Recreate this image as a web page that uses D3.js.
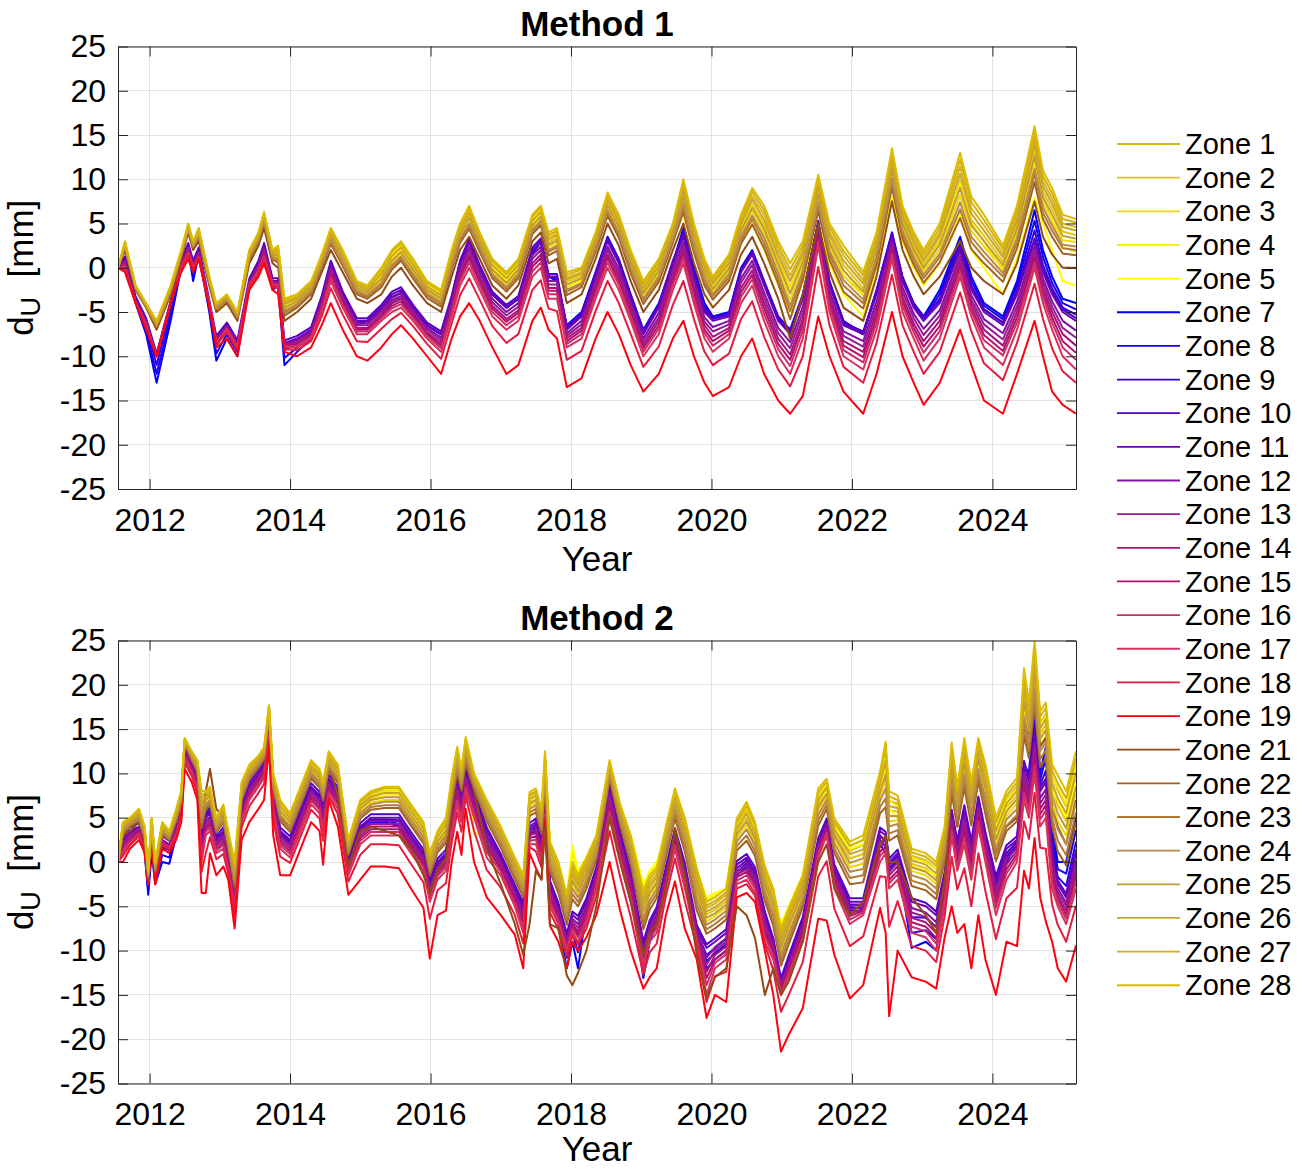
<!DOCTYPE html>
<html>
<head>
<meta charset="utf-8">
<title>Vertical displacement by zone</title>
<script src="https://cdn.jsdelivr.net/npm/d3@7"></script>
<style>
  html, body { margin: 0; padding: 0; background: #ffffff; }
  svg { display: block; }
</style>
</head>
<body>
<svg id="chart" width="1306" height="1169"></svg>
<script>
// ---- zones, colours and tick values ----
const zoneIds = [1,2,3,4,5,7,8,9,10,11,12,13,14,15,16,17,18,19,21,22,23,24,25,26,27,28];
const zoneColors = ["#d9b51c","#e3c510","#eed808","#f6ea00","#ffff00","#0000ff","#1a00ee","#3300dd","#5200cc","#6e00b8","#8510a5","#951c94","#a51480","#b40f6c","#c8306c","#d8305c","#e41c40","#ff0010","#924a14","#a4601e","#b07a36","#b88a48","#c09a3a","#c8a428","#d2b010","#dcbc00"];
const xTickYears = [2012,2014,2016,2018,2020,2022,2024];
const yTickValues = [-25,-20,-15,-10,-5,0,5,10,15,20,25];

// ---- Method 1: sample epochs (decimal years) and dU per zone [mm] ----
const m1Years = [2011.55,2011.65,2011.8,2011.95,2012.1,2012.3,2012.45,2012.55,2012.62,2012.7,2012.85,2012.95,2013.1,2013.25,2013.42,2013.55,2013.63,2013.75,2013.83,2013.92,2014.1,2014.3,2014.45,2014.58,2014.75,2014.95,2015.1,2015.3,2015.45,2015.58,2015.75,2015.95,2016.15,2016.3,2016.42,2016.55,2016.7,2016.88,2017.08,2017.25,2017.45,2017.57,2017.68,2017.8,2017.94,2018.15,2018.35,2018.52,2018.68,2018.85,2019.03,2019.25,2019.45,2019.6,2019.75,2019.9,2020.02,2020.25,2020.42,2020.58,2020.75,2020.95,2021.12,2021.3,2021.52,2021.68,2021.88,2022.16,2022.35,2022.57,2022.72,2022.88,2023.02,2023.25,2023.54,2023.7,2023.88,2024.15,2024.35,2024.6,2024.72,2024.85,2025.0,2025.19];

const m1z1 = [0,2.8,-2.1,-4.1,-6.2,-2.2,1.8,4.8,2.8,4.3,-1.2,-4.2,-3.2,-5.2,1.8,3.8,6,1.8,2.1,-3.9,-3.3,-1.8,1.2,4.1,1.6,-1.8,-2.3,-0.5,1.5,2.5,0.5,-1.9,-2.9,1.5,4.5,6.4,3.5,0.5,-1,0.5,5.5,6.5,3.4,3.9,-1.1,-0.5,3.5,7.9,5.4,1.4,-2.1,0.4,4.5,9.2,4.3,0.4,-1.6,0.9,5.3,8.1,6,2,-0.9,2,9.6,4.1,1.4,-1.4,3.2,12.5,6.2,3.2,1.2,4,11.4,6.7,4.8,1.6,6,14.6,9.8,7.8,5,4.6];
const m1z2 = [0,2.7,-2.2,-4.2,-6.3,-2.3,1.7,4.7,2.7,4,-1.3,-4.3,-3.3,-5.3,1.5,3.5,5.7,1.5,1.7,-4.3,-3.6,-2.1,0.9,3.7,1.2,-2.1,-2.6,-1,1,2,0,-2.3,-3.3,1,4,5.9,3,0,-1.5,0,5,6,2.9,3.4,-1.6,-1,3,7.4,4.9,0.9,-2.6,-0.1,4,8.4,3.6,-0.3,-2.1,0.2,4.6,7.2,4.9,0.9,-2.2,1.1,8.7,3.2,0.3,-2.3,2.4,11.6,5.4,2.4,0.4,3.1,9.8,5.4,3.6,0.7,4.9,13.3,8.6,6.6,4.1,3.7];
const m1z3 = [0,2.5,-2.2,-4.2,-6.5,-2.5,1.5,4.5,2.5,3.8,-1.5,-4.5,-3.5,-5.5,1.3,3.3,5.5,1.3,1.3,-4.7,-4,-2.5,0.5,3.3,0.8,-2.5,-3,-1.4,0.6,1.6,-0.4,-2.7,-3.7,0.6,3.6,5.3,2.6,-0.4,-1.9,-0.4,4.6,5.6,2.3,2.8,-2.2,-1.4,2.6,6.8,4.3,0.3,-3.2,-0.7,3.6,7.6,2.8,-0.9,-2.7,-0.4,3.8,6.4,3.9,-0.1,-3.6,0.1,7.9,2.4,-0.9,-3.1,1.6,10.6,4.6,1.6,-0.4,2.1,8.2,4.2,2.4,-0.1,3.9,11.9,7.4,5.4,3.1,2.9];
const m1z4 = [0,2.5,-2.3,-4.3,-6.5,-2.5,1.8,4.5,2.5,4,-1.5,-4.5,-3.5,-5.3,1.5,3.5,5.7,1.5,1.8,-4.3,-3.8,-2,1,4,1.5,-2,-2.5,-0.5,1.5,2.5,0.5,-1.8,-2.8,1.5,4.5,6.3,3.5,0.5,-1,0.5,5.5,6.5,3.3,3.8,-1.3,-0.8,3.3,7.5,5,1.3,-2.3,0.3,4.3,8,3.5,-0.3,-2,0.3,4.5,7,4.5,0.5,-2.3,0.8,7.8,2.8,-0.3,-3,2,10.8,5,2,0,2.8,9.5,5,3,-0.3,4,12,8,5.5,2.3,1.8];
const m1z5 = [0,2,-2.5,-4.5,-7,-3,1.5,4,2,3.5,-2,-5,-4,-5.5,1,3,5,1,1,-5,-4.5,-2.5,0.5,3.5,1,-2.5,-3,-1,1,2,0,-2,-3,1,4,5.5,3,0,-1.5,0,5,6,2.5,3,-2,-1.5,2.5,6.5,4,0.5,-3,-0.5,3.5,6,2,-1.5,-3,-1,3,5,2,-2,-5,-1.5,5,0.5,-3,-5.5,0,8,3,0,-2,0.5,6,2,0,-3,1,8,5,2,-1.5,-2];
const m1z7 = [0,1,-4,-7.5,-13,-6,0,2,-1.5,1.5,-5,-10.5,-8,-10,-2,0,2,-2.5,-2,-11,-9.5,-8,-4,0,-3.5,-6.5,-6,-5,-4,-3.5,-5.5,-6.5,-7.5,-3.5,0.5,3,0,-3,-4.5,-3.5,1.5,3,-1,-1.5,-6.5,-5,-0.5,3.5,1,-3,-7,-4,0.5,4.5,0,-4,-5.5,-5,0,2,-1.5,-5.5,-7,-3,5,-1.5,-6,-7.5,-2.5,4,-1,-4,-5.5,-2.5,3.5,-1,-4,-5.5,-1.5,6.5,2,-1,-3.5,-4];
const m1z8 = [0,1,-3.8,-7,-12,-5.3,0.2,2.2,-0.8,1.7,-4.7,-9.7,-7.5,-9.5,-1.8,0.2,2.2,-2.2,-1.8,-10.2,-9,-7.7,-3.8,0.2,-3.3,-6.3,-6,-4.8,-3.7,-3.2,-5.2,-6.5,-7.5,-3.5,0.5,3,0,-3,-4.5,-3.5,1.7,3,-1,-1.3,-6.7,-5.2,-0.7,3.3,0.8,-3.2,-7.2,-4.2,0.5,4.2,-0.3,-4.3,-5.7,-5.2,-0.2,1.8,-1.7,-5.7,-7.2,-3.2,5,-1.7,-6.2,-7.5,-2.7,3.8,-1.2,-4.2,-5.7,-3,3,-1.5,-4.3,-5.8,-2,5.3,1.2,-1.7,-4,-4.7];
const m1z9 = [0,1,-3.7,-6.5,-11,-4.7,0.3,2.3,-0.2,1.8,-4.3,-8.8,-7,-9,-1.7,0.3,2.3,-1.8,-1.7,-9.3,-8.5,-7.3,-3.7,0.3,-3.2,-6.2,-6,-4.7,-3.3,-2.8,-4.8,-6.5,-7.5,-3.5,0.5,3,0,-3,-4.5,-3.5,1.8,3,-1,-1.2,-6.8,-5.3,-0.8,3.2,0.7,-3.3,-7.3,-4.3,0.5,3.8,-0.7,-4.7,-5.8,-5.3,-0.3,1.7,-1.8,-5.8,-7.3,-3.3,5,-1.8,-6.3,-7.5,-2.8,3.7,-1.3,-4.3,-5.8,-3.5,2.5,-2,-4.7,-6.2,-2.5,4.2,0.3,-2.3,-4.5,-5.3];
const m1z10 = [0,1.3,-3.2,-5.7,-9.7,-3.7,0.8,2.8,0.8,2.3,-3.7,-7.7,-6.2,-8.2,-1.2,0.8,2.8,-1.2,-1.2,-8.2,-7.7,-6.7,-3.2,0.8,-2.7,-5.7,-5.7,-4.2,-2.7,-2.2,-4.2,-6.2,-7.2,-3.2,0.8,3.3,0.3,-2.7,-4.2,-3.2,2.3,3.3,-0.7,-0.7,-6.7,-5.2,-0.7,3.3,0.8,-3.2,-7.2,-4.2,0.8,3.8,-0.7,-4.7,-5.7,-5.2,-0.2,1.8,-1.7,-5.7,-7.2,-3.2,5.3,-1.7,-6.2,-7.2,-2.7,3.8,-1.2,-4.2,-5.7,-3.7,2.3,-2.2,-4.7,-6.2,-2.7,3.3,-0.2,-2.7,-4.7,-5.7];
const m1z11 = [0,1,-3.5,-6,-10,-4,0.5,2.5,0.5,2,-4,-8,-6.5,-8.5,-1.5,0.5,2.5,-1.5,-1.5,-8.5,-8,-7,-3.5,0.5,-3,-6,-6,-4.5,-3,-2.5,-4.5,-6.5,-7.5,-3.5,0.5,3,0,-3,-4.5,-3.5,2,3,-1,-1,-7,-5.5,-1,3,0.5,-3.5,-7.5,-4.5,0.5,3.5,-1,-5,-6,-5.5,-0.5,1.5,-2,-6,-7.5,-3.5,5,-2,-6.5,-7.5,-3,3.5,-1.5,-4.5,-6,-4,2,-2.5,-5,-6.5,-3,3,-0.5,-3,-5,-6];
const m1z12 = [0,0.8,-3.6,-6.1,-10,-4,0.4,2.3,0.4,1.8,-4,-8.1,-6.6,-8.6,-1.6,0.3,2.2,-1.6,-1.6,-8.6,-8.2,-7.2,-3.8,0.1,-3.3,-6.3,-6.3,-4.8,-3.4,-2.9,-4.8,-6.8,-7.9,-3.9,0,2.4,-0.5,-3.5,-5,-4,1.4,2.4,-1.5,-1.5,-7.4,-6,-1.5,2.4,-0.1,-4,-8,-5.1,-0.1,2.9,-1.6,-5.6,-6.7,-6,-1.2,0.8,-2.8,-6.8,-8.4,-4.4,4.5,-2.6,-7.2,-8.3,-3.8,3,-2.2,-5.2,-6.9,-4.8,1.4,-3.1,-5.8,-7.4,-3.8,2.4,-1.2,-3.8,-6,-7.1];
const m1z13 = [0,0.7,-3.7,-6.2,-10,-4,0.3,2.2,0.3,1.7,-4,-8.2,-6.7,-8.7,-1.7,0.2,2,-1.7,-1.7,-8.7,-8.4,-7.4,-4,-0.2,-3.5,-6.5,-6.5,-5,-3.7,-3.2,-5,-7,-8.2,-4.2,-0.4,2,-0.9,-3.9,-5.4,-4.4,1,2,-1.9,-1.9,-7.7,-6.4,-1.9,2,-0.6,-4.4,-8.4,-5.6,-0.6,2.5,-2.1,-6.1,-7.2,-6.4,-1.7,0.3,-3.4,-7.4,-9.1,-5.1,4.1,-3.1,-7.7,-8.9,-4.4,2.6,-2.7,-5.7,-7.6,-5.4,1,-3.6,-6.4,-8.1,-4.4,2,-1.7,-4.4,-6.8,-7.9];
const m1z14 = [0,0.5,-3.8,-6.3,-10,-4,0.3,2,0.3,1.5,-4,-8.3,-6.8,-8.8,-1.8,0,1.8,-1.8,-1.8,-8.8,-8.5,-7.5,-4.3,-0.5,-3.8,-6.8,-6.8,-5.3,-4,-3.5,-5.3,-7.3,-8.5,-4.5,-0.8,1.5,-1.3,-4.3,-5.8,-4.8,0.5,1.5,-2.3,-2.3,-8,-6.8,-2.3,1.5,-1,-4.8,-8.8,-6,-1,2,-2.5,-6.5,-7.8,-6.8,-2.3,-0.3,-4,-8,-9.8,-5.8,3.8,-3.5,-8.3,-9.5,-5,2.3,-3.3,-6.3,-8.3,-6,0.5,-4,-7,-8.8,-5,1.5,-2.3,-5,-7.5,-8.8];
const m1z15 = [0,0.4,-3.8,-6.3,-10,-4,0.2,1.9,0.2,1.4,-4,-8.3,-6.8,-8.8,-1.8,-0.2,1.5,-1.8,-1.8,-8.8,-8.7,-7.7,-4.5,-0.8,-4,-7,-7,-5.5,-4.3,-3.8,-5.5,-7.5,-8.8,-4.8,-1.1,1.1,-1.6,-4.6,-6.1,-5.1,0.1,1.1,-2.6,-2.6,-8.3,-7.1,-2.6,1.1,-1.5,-5.1,-9.1,-6.5,-1.5,1.6,-3,-7,-8.3,-7.1,-2.8,-0.8,-4.6,-8.6,-10.4,-6.4,3.4,-4,-8.8,-10.1,-5.6,1.9,-3.8,-6.8,-8.9,-6.6,0.1,-4.5,-7.6,-9.4,-5.6,1.1,-2.8,-5.6,-8.3,-9.6];
const m1z16 = [0,0.2,-3.9,-6.4,-10,-4,0.1,1.7,0.1,1.2,-4,-8.4,-6.9,-8.9,-1.9,-0.3,1.3,-1.9,-1.9,-8.9,-8.8,-7.8,-4.7,-1.1,-4.2,-7.2,-7.2,-5.7,-4.6,-4.1,-5.7,-7.7,-9.1,-5.1,-1.5,0.6,-2,-5,-6.5,-5.5,-0.4,0.6,-3,-3,-8.6,-7.5,-3,0.6,-1.9,-5.5,-9.5,-6.9,-1.9,1.1,-3.4,-7.4,-8.8,-7.5,-3.3,-1.3,-5.2,-9.2,-11.1,-7.1,3,-4.4,-9.3,-10.7,-6.2,1.5,-4.3,-7.3,-9.6,-7.2,-0.4,-4.9,-8.2,-9.9,-6.2,0.6,-3.3,-6.2,-9,-10.4];
const m1z17 = [0,0,-4,-6.5,-10,-4,0,1.5,0,1,-4,-8.5,-7,-9,-2,-0.5,1,-2,-2,-9,-9,-8,-5,-1.5,-4.5,-7.5,-7.5,-6,-5,-4.5,-6,-8,-9.5,-5.5,-2,0,-2.5,-5.5,-7,-6,-1,0,-3.5,-3.5,-9,-8,-3.5,0,-2.5,-6,-10,-7.5,-2.5,0.5,-4,-8,-9.5,-8,-4,-2,-6,-10,-12,-8,2.5,-5,-10,-11.5,-7,1,-5,-8,-10.5,-8,-1,-5.5,-9,-11,-7,0,-4,-7,-10,-11.5];
const m1z18 = [0,-0.2,-4,-6.7,-10,-4,-0.2,1.4,-0.2,1,-4.2,-8.7,-7.3,-9.3,-2.2,-0.7,0.9,-2.2,-2.3,-9.2,-9.3,-8.3,-5.5,-2.3,-5.3,-8.3,-8.4,-6.9,-5.8,-5.1,-6.6,-8.6,-10.3,-6.3,-3.1,-1.2,-3.6,-6.6,-8.5,-7.5,-2.5,-1.4,-4.6,-4.9,-10.4,-9.4,-4.9,-1.5,-4,-7.5,-11.2,-8.9,-4.2,-1.5,-5.8,-9.5,-11,-9.7,-5.8,-3.8,-7.8,-11.5,-13.4,-10,0.1,-6.5,-11.2,-13,-8.5,-0.8,-6.5,-9.5,-12,-9.5,-2.8,-7.2,-10.8,-12.7,-8.5,-1.8,-5.8,-9.1,-11.7,-13];
const m1z19 = [0,-0.5,-4,-7,-10,-4,-0.5,1,-0.5,1,-4.5,-9,-8,-10,-2.5,-1,0.5,-2.5,-3,-9.5,-10,-9,-6.5,-4,-7,-10,-10.5,-9,-7.5,-6.5,-8,-10,-12,-8,-5.5,-4,-6,-9,-12,-11,-6,-4.5,-7,-8,-13.5,-12.5,-8,-5,-7.5,-11,-14,-12,-8,-6,-10,-13,-14.5,-13.5,-10,-8,-12,-15,-16.5,-14.5,-5.5,-10,-14,-16.5,-12,-5,-10,-13,-15.5,-13,-7,-11,-15,-16.5,-12,-6,-10,-14,-15.5,-16.5];
const m1z21 = [0,2,-2.5,-4.5,-7,-3,1,4,2,3,-2,-5,-4,-6,0.5,2.5,4.5,0.5,0,-6,-5,-3.5,-0.5,2,-0.5,-3.5,-4,-3,-1,0,-2,-4,-5,-1,2,3.5,1,-2,-3.5,-2,3,4,0.5,1,-4,-3,1,5,2.5,-1.5,-5,-2.5,2,5,0.5,-3,-4.5,-2.5,1.5,3.5,0.5,-3.5,-8,-3,5,-0.5,-4.5,-6,-1,7.5,2,-1,-3,-1,3,0,-1.5,-3,0.5,7.5,3.5,1.5,0,0];
const m1z22 = [0,2.3,-2.4,-4.4,-6.7,-2.7,1.3,4.3,2.3,3.4,-1.7,-4.7,-3.7,-5.7,0.9,2.9,5,0.9,0.6,-5.4,-4.5,-3,0,2.7,0.2,-3,-3.5,-2.2,-0.2,0.8,-1.2,-3.4,-4.4,-0.2,2.8,4.4,1.8,-1.2,-2.7,-1.2,3.8,4.8,1.4,1.9,-3.1,-2.2,1.8,5.9,3.4,-0.6,-4.1,-1.6,2.8,6.3,1.7,-2,-3.6,-1.5,2.7,4.9,2.2,-1.8,-5.8,-1.4,6.4,0.9,-2.7,-4.6,0.3,9.1,3.3,0.3,-1.7,0.6,5.6,2.1,0.5,-1.6,2.2,9.7,5.5,3.5,1.6,1.4];
const m1z23 = [0,2.4,-2.3,-4.3,-6.6,-2.6,1.4,4.4,2.4,3.5,-1.6,-4.6,-3.6,-5.6,1,3,5.2,1,0.9,-5.1,-4.3,-2.8,0.2,2.9,0.4,-2.8,-3.3,-1.9,0.1,1.1,-0.9,-3.1,-4.1,0.1,3.1,4.8,2.1,-0.9,-2.4,-0.9,4.1,5.1,1.8,2.3,-2.7,-1.9,2.1,6.3,3.8,-0.2,-3.7,-1.2,3.1,6.8,2.1,-1.6,-3.2,-1.1,3.1,5.5,2.8,-1.2,-4.9,-0.8,7,1.5,-2,-4,0.8,9.7,3.8,0.8,-1.2,1.2,6.6,2.9,1.2,-1,2.8,10.6,6.2,4.2,2.2,2];
const m1z24 = [0,2.4,-2.3,-4.3,-6.6,-2.6,1.4,4.4,2.4,3.7,-1.6,-4.6,-3.6,-5.6,1.2,3.2,5.3,1.2,1.1,-4.9,-4.1,-2.6,0.4,3.1,0.6,-2.6,-3.1,-1.7,0.3,1.3,-0.7,-2.9,-3.9,0.3,3.3,5,2.3,-0.7,-2.2,-0.7,4.3,5.3,2,2.5,-2.5,-1.7,2.3,6.5,4,0,-3.5,-1,3.3,7.2,2.5,-1.2,-3,-0.7,3.5,5.9,3.4,-0.6,-4.3,-0.4,7.4,1.9,-1.4,-3.6,1.2,10.1,4.2,1.2,-0.8,1.6,7.4,3.5,1.8,-0.6,3.4,11.2,6.8,4.8,2.6,2.4];
const m1z25 = [0,2.6,-2.2,-4.2,-6.4,-2.4,1.6,4.6,2.6,3.9,-1.4,-4.4,-3.4,-5.4,1.4,3.4,5.6,1.4,1.5,-4.5,-3.8,-2.3,0.7,3.5,1,-2.3,-2.8,-1.2,0.8,1.8,-0.2,-2.5,-3.5,0.8,3.8,5.6,2.8,-0.2,-1.7,-0.2,4.8,5.8,2.6,3.1,-1.9,-1.2,2.8,7.1,4.6,0.6,-2.9,-0.4,3.8,8,3.2,-0.6,-2.4,-0.1,4.2,6.8,4.4,0.4,-2.9,0.6,8.3,2.8,-0.3,-2.7,2,11.1,5,2,0,2.6,9,4.8,3,0.3,4.4,12.6,8,6,3.6,3.3];
const m1z26 = [0,2.8,-2.1,-4.1,-6.2,-2.2,1.8,4.8,2.8,4.1,-1.2,-4.2,-3.2,-5.2,1.6,3.6,5.9,1.6,1.9,-4.1,-3.5,-2,1,3.9,1.4,-2,-2.5,-0.7,1.3,2.3,0.3,-2.1,-3.1,1.3,4.3,6.2,3.3,0.3,-1.2,0.3,5.3,6.3,3.2,3.7,-1.3,-0.7,3.3,7.7,5.2,1.2,-2.3,0.2,4.3,8.8,3.9,0,-1.8,0.5,4.9,7.7,5.4,1.4,-1.5,1.6,9.2,3.7,0.8,-1.8,2.8,12.1,5.8,2.8,0.8,3.6,10.6,6.1,4.2,1.2,5.4,14,9.2,7.2,4.6,4.2];
const m1z27 = [0,2.9,-2,-4,-6.1,-2.1,1.9,4.9,2.9,4.4,-1.1,-4.1,-3.1,-5.1,1.9,3.9,6.2,1.9,2.3,-3.7,-3.2,-1.7,1.3,4.3,1.8,-1.7,-2.2,-0.2,1.8,2.8,0.8,-1.7,-2.7,1.8,4.8,6.7,3.8,0.8,-0.7,0.8,5.8,6.8,3.7,4.2,-0.8,-0.2,3.8,8.2,5.7,1.7,-1.8,0.7,4.8,9.6,4.6,0.7,-1.3,1.2,5.6,8.6,6.5,2.5,-0.2,2.5,10.1,4.6,1.9,-0.9,3.6,13,6.6,3.6,1.6,4.5,12.2,7.4,5.4,2.1,6.5,15.3,10.4,8.4,5.5,5.1];
const m1z28 = [0,3,-2,-4,-6,-2,2,5,3,4.5,-1,-4,-3,-5,2,4,6.3,2,2.5,-3.5,-3,-1.5,1.5,4.5,2,-1.5,-2,0,2,3,1,-1.5,-2.5,2,5,7,4,1,-0.5,1,6,7,4,4.5,-0.5,0,4,8.5,6,2,-1.5,1,5,10,5,1,-1,1.5,6,9,7,3,0.5,3,10.5,5,2.5,-0.5,4,13.5,7,4,2,5,13,8,6,2.5,7,16,11,9,6,5.5];

// ---- Method 2: sample epochs (decimal years) and dU per zone [mm] ----
const m2Years = [2011.55,2011.62,2011.72,2011.85,2011.93,2011.98,2012.03,2012.08,2012.18,2012.28,2012.38,2012.45,2012.5,2012.6,2012.68,2012.74,2012.8,2012.86,2012.95,2013.05,2013.12,2013.21,2013.31,2013.42,2013.55,2013.63,2013.7,2013.76,2013.86,2014.0,2014.15,2014.3,2014.42,2014.47,2014.55,2014.68,2014.83,2015.0,2015.15,2015.35,2015.55,2015.72,2015.9,2015.99,2016.1,2016.22,2016.3,2016.38,2016.44,2016.5,2016.62,2016.8,2017.0,2017.2,2017.32,2017.41,2017.5,2017.58,2017.63,2017.7,2017.82,2017.94,2018.02,2018.1,2018.22,2018.36,2018.55,2018.7,2018.85,2019.03,2019.12,2019.22,2019.35,2019.48,2019.62,2019.79,2019.93,2020.05,2020.21,2020.36,2020.5,2020.62,2020.76,2020.88,2020.99,2021.1,2021.3,2021.52,2021.64,2021.75,2021.97,2022.16,2022.4,2022.48,2022.53,2022.65,2022.85,2023.05,2023.2,2023.32,2023.42,2023.5,2023.6,2023.7,2023.8,2023.9,2024.05,2024.2,2024.35,2024.45,2024.52,2024.6,2024.68,2024.76,2024.85,2024.93,2025.05,2025.19];

const m2z1 = [0,4.2,4.8,5.7,3.7,-1.1,4.8,-0.2,4.2,3.3,5.7,7.7,13.9,12.3,11.2,7.2,7.6,8.1,4.6,6.1,3.1,-0.6,8.6,10.6,11.7,12.7,17.4,9.6,6.5,5.1,8.1,11.1,10.1,8.6,12.1,10.6,2.1,6.6,7.6,8,8,6,4,0.5,3,4.4,8.9,12.4,10,13.5,9.6,6.5,3.5,0,-2,7.4,7.8,5.4,11.7,1.6,-0.7,-4.4,-0.8,-2.2,-0.2,2.4,11.1,6,2.4,-4.2,-2.3,-1.4,3.3,7.6,4.2,-1.7,-5.2,-4.7,-3.7,4.2,5.9,3.7,-1.3,-3.8,-8.3,-6,-2.2,7.5,8.7,4.1,1.3,1.9,9.3,12.1,6.9,6.6,0.7,0.2,-0.8,3.2,12.4,7.6,12.9,8,13,9.9,4,7.1,8.5,20.4,16.7,23.4,15.7,16.7,9.6,8.1,6.3,10.9];
const m2z2 = [0,3.9,4.6,5.4,3.4,-1.3,4.6,-0.4,3.9,3.1,5.4,7.4,13.7,12.1,10.9,6.3,7.2,7.7,4.3,5.7,2.7,-1.1,8.2,10.3,11.4,12.4,17.1,9.3,6,4.7,7.7,10.7,9.7,8.2,11.7,10.2,1.8,6.2,7.2,7.5,7.5,5.5,3.5,0,2.5,3.9,8.4,11.9,9.5,13,9.3,6,3,-0.5,-2.5,6.8,7.2,4.9,10.9,0.9,-1.4,-5,-1.7,-2.9,-0.9,1.9,10.7,5.5,1.7,-5,-3.1,-2.1,2.6,6.9,3.4,-2.6,-5.9,-5.4,-4.4,3.5,5,2.9,-2.1,-4.7,-9.2,-6.8,-2.9,6.6,8,3.3,0.4,0.9,8.3,10.6,5.8,5.7,-0.2,-0.7,-1.7,2.4,11.3,6.7,11.8,7,12,8.8,3,6.2,7.5,18.9,15.5,21.9,14.5,15.5,8.2,6.4,4.6,9.3];
const m2z3 = [0,3.7,4.4,5.2,3.2,-1.4,4.4,-0.6,3.7,2.9,5.2,7.2,13.6,11.9,10.7,5.5,6.7,7.2,3.9,5.2,2.2,-1.7,7.7,9.9,11.2,12.2,16.8,8.9,5.5,4.2,7.2,10.2,9.2,7.7,11.2,9.7,1.4,5.7,6.7,7,7,5,3,-0.5,2,3.3,7.8,11.3,9,12.4,8.9,5.5,2.5,-1,-3,6.3,6.7,4.3,10.2,0.3,-2.1,-5.7,-2.5,-3.6,-1.6,1.3,10.2,5,1.1,-5.9,-3.8,-2.7,1.9,6.2,2.7,-3.6,-6.7,-6.1,-5.1,2.7,4.2,2.2,-2.8,-5.5,-10,-7.7,-3.7,5.8,7.4,2.6,-0.6,-0.2,7.4,9.2,4.6,4.7,-1,-1.5,-2.5,1.7,10.1,5.8,10.6,6.1,11.1,7.6,2.1,5.2,6.6,17.3,14.2,20.5,13.2,14.2,6.8,4.6,3,7.7];
const m2z4 = [0,4.3,4.8,5.8,3.8,-1.3,4.8,-0.3,4.3,3.3,5.8,7.5,13.8,12.3,11.3,3.5,7,7.8,4.5,6,3,-1.9,8.5,10.5,11.5,12.5,17.4,9.8,6.5,5,8,11,10,8.5,12,10.5,2.3,6.5,7.5,8,8,6,4,-0.8,3,4.5,9,12.5,10,13.6,6.5,5.5,3.5,0.5,-1.8,6.7,7.2,5.3,10.8,1.7,-0.5,-3.9,1,-1.3,0.5,2.8,11,6.3,3,-2.9,-1.3,-0.4,3.5,7.7,4.5,-0.9,-4.3,-3.8,-3,4.5,6.2,4,-0.8,-3.3,-7.3,-5.1,-1.5,7.7,8.7,4.5,1.9,2.5,9.1,12.3,7,6.3,0.5,0,-0.8,3.3,11.3,7.3,12,7.5,12.5,9.5,4,7,8.3,19.5,16.5,22.5,15.5,16.5,9.5,8.4,6.5,10.8];
const m2z5 = [0,4,4.5,5.5,3.5,-1.5,4.5,-0.5,4,3,5.5,7,13.5,12,11,-1,6,7,4,5.5,2.5,-3.7,8,10,11,12,17,9.5,6,4.5,7.5,10.5,9.5,8,11.5,10,2,6,7,7.5,7.5,5.5,3.5,-2.5,2.5,4,8.5,12,9.5,13,3,4,3,0.5,-2,5.5,6,4.5,9,1,-1,-4,1.9,-1,0.5,2.5,10.5,6,3,-2.5,-1,0,3,7,4,-1,-4,-3.5,-3,4,5.5,3.5,-1,-3.5,-7,-5,-1.5,7,8,4,1.5,2,8,11,6,5,-0.5,-1,-1.5,2.5,9,6,10,6,11,8,3,6,7,17,15,20,14,15,8,7,5,9];
const m2z7 = [0,2,3,3.5,1,-3.7,1,-2.5,0,-0.2,3,5,12,10.5,9,3,6,6,3,3,0,-4,5.5,8,9.5,11,15,7,3,2,5,8,7,5.5,9,7.5,-0.5,3.5,4.5,4.5,4,2,0,-3,-0.5,0.5,5,8.5,6.5,9.5,6.5,2,-0.5,-4,-6,3,3.5,1,6,-3.5,-7,-12,-9,-12,-5.5,-2,9,2,-2.5,-13.1,-9,-7,-2,2.5,-2,-8.5,-12,-11,-10,-1.5,-0.5,-2,-8,-10,-14,-12,-7.5,1.5,3.5,-1.5,-5.5,-5.5,2,1,-1,0,-9.7,-9,-10,-3,4,1,5,0,6,2,-3,0,2,11,10,17.7,10,13,4,0,0,4.9];
const m2z8 = [0,2.2,3.2,3.7,1.3,-3.1,1.8,-2.2,0.8,0.5,3.3,5.3,12.3,10.7,9.2,2.7,5.7,5.8,2.8,3.2,0.2,-4,5.7,8.2,9.7,11,15.2,7.2,3.2,2.2,5.2,8.2,7.2,5.7,9.2,7.7,-0.3,3.7,4.7,4.7,4.3,2.3,0.3,-2.8,-0.3,0.7,5.2,8.7,6.7,9.7,6.8,2.5,-0.2,-3.7,-5.7,3.3,3.8,1.3,6.3,-3.2,-6.3,-10.8,-8,-10.2,-5.2,-1.7,8.8,2.3,-2.2,-11.9,-8.3,-6.5,-1.7,2.8,-1.5,-8.2,-11.2,-10.3,-9.3,-1.1,-0.2,-1.7,-7.3,-9.7,-13.8,-11.7,-7.2,1.8,3.8,-1.2,-5.2,-5.2,2.5,1.7,-0.7,0.3,-8,-7.7,-8.7,-2.5,4.5,1.3,5.3,0.7,6.3,2.3,-2.7,0.5,2.2,11,9.7,16.6,9.3,11.7,3,-0.8,-1.3,3.6];
const m2z9 = [0,2.3,3.3,3.8,1.7,-2.6,2.7,-1.8,1.7,1.3,3.7,5.7,12.7,10.8,9.3,2.3,5.3,5.7,2.7,3.3,0.3,-4,5.8,8.3,9.8,11,15.3,7.3,3.3,2.3,5.3,8.3,7.3,5.8,9.3,7.8,-0.2,3.8,4.8,4.8,4.7,2.7,0.7,-2.7,-0.2,0.8,5.3,8.8,6.8,9.8,7.2,3,0.2,-3.3,-5.3,3.7,4.2,1.7,6.7,-2.8,-5.7,-9.7,-7,-8.3,-4.8,-1.3,8.7,2.7,-1.8,-10.6,-7.7,-6,-1.3,3.1,-1,-7.8,-10.5,-9.7,-8.7,-0.7,0.2,-1.3,-6.7,-9.3,-13.7,-11.3,-6.9,2,4.2,-1,-4.8,-4.8,3,2.3,-0.3,0.7,-6.2,-6.3,-7.3,-2,5,1.7,5.7,1.3,6.7,2.7,-2.3,1,2.3,11,9.3,15.4,8.7,10.3,2,-1.7,-2.7,2.3];
const m2z10 = [0,2.9,3.9,4.4,2.4,-1.6,3.9,-1.1,2.9,2.4,4.4,6.4,13.4,11.4,9.9,2.4,5.4,5.9,2.9,3.9,0.9,-3.6,6.4,8.9,10.4,11.4,15.9,7.9,3.9,2.9,5.9,8.9,7.9,6.4,9.9,8.4,0.4,4.4,5.4,5.4,5.4,3.4,1.4,-2.1,0.4,1.4,5.9,9.4,7.4,10.4,7.9,3.9,0.9,-2.6,-4.6,4.4,4.9,2.4,7.4,-2.1,-4.6,-8.1,-5.6,-6.1,-4.1,-0.6,8.9,3.4,-1.1,-9,-6.6,-5.1,-0.6,3.8,-0.1,-7.1,-9.3,-8.6,-7.6,0.1,0.9,-0.6,-5.6,-8.6,-13.1,-10.6,-6.2,2.7,4.9,-0.3,-4.1,-4.1,3.9,3.4,0.4,1.4,-4.1,-4.6,-5.6,-1.1,5.9,2.4,6.4,2.4,7.4,3.4,-1.6,1.9,2.9,11.4,9.4,14.7,8.4,9.4,1.4,-2.1,-3.6,1.4];
const m2z11 = [0,2.5,3.5,4,2,-2,3.5,-1.5,2.5,2,4,6,13,11,9.5,2,5,5.5,2.5,3.5,0.5,-4,6,8.5,10,11,15.5,7.5,3.5,2.5,5.5,8.5,7.5,6,9.5,8,0,4,5,5,5,3,1,-2.5,0,1,5.5,9,7,10,7.5,3.5,0.5,-3,-5,4,4.5,2,7,-2.5,-5,-8.5,-6,-6.5,-4.5,-1,8.5,3,-1.5,-9.4,-7,-5.5,-1,3.4,-0.5,-7.5,-9.7,-9,-8,-0.3,0.5,-1,-6,-9,-13.5,-11,-6.6,2.3,4.5,-0.7,-4.5,-4.5,3.5,3,0,1,-4.5,-5,-6,-1.5,5.5,2,6,2,7,3,-2,1.5,2.5,11,9,14.3,8,9,1,-2.5,-4,1];
const m2z12 = [0,2.2,3.2,3.8,1.9,-2.1,3.3,-1.7,2.4,1.9,3.8,5.8,12.7,10.8,9.2,1.6,4.6,5.1,2.2,3.1,0.2,-4.3,5.7,8.2,9.7,10.7,15.2,7.1,3.1,2.1,5.1,8.1,7.1,5.5,9.1,7.6,-0.3,3.6,4.6,4.6,4.6,2.6,0.6,-2.9,-0.4,0.6,5,8.5,6.5,9.6,7,2.9,0.1,-3.4,-5.6,3.6,4,1.6,6.6,-3,-5.4,-8.8,-6.4,-7,-5,-1.4,7.8,2.4,-2.1,-9.9,-7.4,-6,-1.4,3,-1,-7.8,-10.8,-9.6,-8.6,-0.7,0,-1.5,-6.6,-9.4,-13.8,-11.4,-7.1,1.9,4.2,-1.2,-5,-4.8,2.8,2.6,-0.6,0.4,-5.2,-5.7,-6.8,-2.2,5,1.4,5.2,1.2,6.4,2.4,-2.8,0.8,2,10.2,8.2,13.4,7.2,8.2,0.2,-3,-4.6,0.2];
const m2z13 = [0,2,3,3.7,1.8,-2.2,3.2,-1.9,2.3,1.8,3.7,5.7,12.5,10.7,9,1.3,4.3,4.8,2,2.8,0,-4.5,5.5,8,9.5,10.5,15,6.8,2.8,1.8,4.8,7.8,6.8,5.1,8.8,7.3,-0.5,3.3,4.3,4.3,4.3,2.3,0.3,-3.2,-0.7,0.3,4.6,8.1,6.1,9.3,6.6,2.5,-0.2,-3.7,-6.1,3.3,3.6,1.3,6.3,-3.4,-5.7,-9,-6.7,-7.4,-5.4,-1.7,7.3,2,-2.6,-10.3,-7.7,-6.4,-1.7,2.7,-1.4,-8,-11.6,-10,-9,-1.1,-0.4,-1.9,-7,-9.7,-14,-11.7,-7.4,1.7,4,-1.5,-5.4,-5,2.3,2.3,-1.1,-0.1,-5.7,-6.2,-7.4,-2.7,4.6,1,4.6,0.6,6,2,-3.4,0.3,1.6,9.6,7.6,12.8,6.6,7.6,-0.4,-3.4,-5,-0.4];
const m2z14 = [0,1.8,2.8,3.5,1.8,-2.3,3,-2,2.3,1.8,3.5,5.5,12.3,10.5,8.8,1,4,4.5,1.8,2.5,-0.3,-4.8,5.3,7.8,9.3,10.3,14.8,6.5,2.5,1.5,4.5,7.5,6.5,4.8,8.5,7,-0.8,3,4,4,4,2,0,-3.5,-1,0,4.3,7.8,5.8,9,6.3,2,-0.5,-4,-6.5,3,3.3,1,6,-3.8,-6,-9.3,-7,-7.8,-5.8,-2,6.8,1.5,-3,-10.7,-8,-6.8,-2,2.5,-1.8,-8.3,-12.4,-10.5,-9.5,-1.4,-0.8,-2.3,-7.5,-10,-14.3,-12,-7.8,1.4,3.8,-1.9,-5.8,-5.3,1.8,2,-1.5,-0.5,-6.3,-6.8,-8,-3.3,4.3,0.5,4,0,5.5,1.5,-4,-0.3,1.3,9,7,12.2,6,7,-1,-3.8,-5.5,-1];
const m2z15 = [0,1.5,2.5,3.4,1.7,-2.3,2.9,-2.2,2.2,1.7,3.4,5.4,12,10.4,8.5,0.7,3.7,4.2,1.5,2.2,-0.5,-5,5,7.5,9,10,14.5,6.2,2.2,1.2,4.2,7.2,6.2,4.4,8.2,6.7,-1,2.7,3.7,3.7,3.7,1.7,-0.3,-3.8,-1.3,-0.3,3.9,7.4,5.4,8.7,5.9,1.6,-0.8,-4.3,-7,2.7,2.9,0.7,5.7,-4.1,-6.3,-9.5,-7.3,-8.1,-6.1,-2.3,6.2,1.1,-3.5,-11.1,-8.3,-7.1,-2.3,2.2,-2.1,-8.5,-13.1,-11,-10,-1.7,-1.1,-2.6,-8,-10.3,-14.5,-12.3,-8.2,1.1,3.5,-2.2,-6.1,-5.5,1.2,1.7,-2,-1,-6.8,-7.3,-8.6,-3.8,3.9,0,3.4,-0.6,5,1,-4.6,-0.8,0.9,8.4,6.4,11.5,5.4,6.4,-1.6,-4.1,-6,-1.6];
const m2z16 = [0,1.3,2.3,3.2,1.6,-2.4,2.7,-2.3,2.1,1.6,3.2,5.2,11.8,10.2,8.3,0.4,3.4,3.9,1.3,1.9,-0.7,-5.2,4.8,7.3,8.8,9.8,14.3,5.9,1.9,0.9,3.9,6.9,5.9,4,7.9,6.4,-1.2,2.4,3.4,3.4,3.4,1.4,-0.6,-4.1,-1.6,-0.6,3.5,7,5,8.4,5.5,1.1,-1.1,-4.6,-7.4,2.4,2.5,0.4,5.4,-4.5,-6.6,-9.7,-7.6,-8.5,-6.5,-2.6,5.7,0.6,-3.9,-11.5,-8.6,-7.5,-2.6,1.9,-2.5,-8.7,-13.9,-11.4,-10.4,-2.1,-1.5,-3,-8.4,-10.6,-14.7,-12.6,-8.5,0.9,3.3,-2.5,-6.5,-5.7,0.7,1.4,-2.4,-1.4,-7.3,-7.8,-9.2,-4.3,3.5,-0.4,2.8,-1.2,4.6,0.6,-5.2,-1.3,0.5,7.8,5.8,10.9,4.8,5.8,-2.2,-4.5,-6.4,-2.2];
const m2z17 = [0,1,2,3,1.5,-2.5,2.5,-2.5,2,1.5,3,5,11.5,10,8,0,3,3.5,1,1.5,-1,-5.5,4.5,7,8.5,9.5,14,5.5,1.5,0.5,3.5,6.5,5.5,3.5,7.5,6,-1.5,2,3,3,3,1,-1,-4.5,-2,-1,3,6.5,4.5,8,5,0.5,-1.5,-5,-8,2,2,0,5,-5,-7,-10,-8,-9,-7,-3,5,0,-4.5,-12,-9,-8,-3,1.5,-3,-9,-15,-12,-11,-2.5,-2,-3.5,-9,-11,-15,-13,-9,0.5,3,-3,-7,-6,0,1,-3,-2,-8,-8.5,-10,-5,3,-1,2,-2,4,0,-6,-2,0,7,5,10,4,5,-3,-5,-7,-3];
const m2z18 = [0,0.7,1.9,2.9,1.4,-2.5,2.7,-2.5,1.9,1.4,2.9,4.9,11.2,9.7,7.7,-1.1,1,2.8,0.3,0.9,-1.3,-6.1,3.9,6.3,7.8,8.8,13.7,4.8,0.6,-0.1,2.9,5.9,4.9,2.4,7.4,5.4,-2.2,0.8,2,2,1.9,-0.2,-2.3,-6.4,-3.2,-2.4,2.1,5.6,3.4,7.4,3.5,-0.9,-2.9,-6,-9.2,1.7,1.2,-0.6,4.9,-5.7,-7.6,-10.6,-8.3,-9.3,-7.5,-3.9,3.5,-1.7,-6.2,-12.7,-10.2,-9.2,-3.9,0.4,-4.4,-9.6,-15.8,-12.9,-12.4,-3,-2.5,-3.8,-9.3,-12.2,-16.9,-15,-11.3,-1.6,0.1,-5.3,-9.5,-8.4,-1.6,-1.7,-7.3,-4.4,-9.5,-10,-11.3,-6.1,0.6,-3.1,-0.7,-5,1,-3.3,-8.7,-4.1,-2.9,4.6,2.6,7.8,1.6,1.5,-4.8,-7.1,-9,-4.9];
const m2z19 = [0,0,1.5,2.5,1,-2.5,3,-2.5,1.5,1,2.5,4.5,10.5,9,7,-3.5,-3.5,1,-1.5,-0.5,-2,-7.5,2.5,4.5,6,7,13,3,-1.5,-1.5,1.5,4.5,3.5,-0.3,7,4,-3.7,-2,-0.5,-0.5,-0.7,-3,-5.2,-10.9,-6,-5.5,0,3.4,0.8,6,0,-4,-6,-8.2,-12,1,-0.7,-2,4.5,-7.2,-9,-12,-9,-10,-8.5,-6,0,-5.5,-10,-14.3,-13,-12,-6,-2.2,-7.5,-11,-17.6,-15,-15.8,-4,-3.5,-4.5,-10,-15,-21.4,-19.5,-16.5,-6.4,-6.6,-10.5,-15.4,-13.9,-5.2,-8,-17.4,-10,-13,-13.5,-14.3,-8.5,-5,-8,-7,-12,-6,-11,-15,-9,-9.5,-1,-3,2.7,-4,-6.7,-9,-12,-13.5,-9.4];
const m2z21 = [0,3,3.5,4.5,2.5,-2,4,-1,3,2.5,5,7,13.5,12,10.5,4,8,10.5,6,5,2.5,-3,7.5,9.5,11,12,16.5,9,5,4,7,10,9,7.5,11,7.5,-0.5,3.5,4,3.5,3,1.5,-1.5,-3.5,-1,0.5,6,10,8,11,8,1.5,-2.5,-7,-10.5,-7,-1,-2,4,-7,-7.5,-12.8,-13.9,-12.5,-10,-5,5,0,-4.5,-10.5,-8,-7,-3,3.8,-1.5,-10.5,-15.4,-13,-12,-5,-6,-8.6,-15,-12,-15,-13.5,-9,0,2,-3,-6,-4.5,2,3,0,0,-4,-6,-8,-2,8,4,9,5,10,7,1,4,5,16,14,19,13,14,6,4,2,7];
const m2z22 = [0,3.1,4,4.6,2.6,-1.7,4,-1.1,3.1,2.5,4.6,6.6,13.3,11.5,10.1,3.8,5.9,6.4,3.3,4.4,1.4,-2.8,6.9,9.3,10.6,11.6,16.2,8.3,4.6,3.4,6.4,9.4,8.4,6.9,10.4,8.9,0.8,4.9,5.9,6.1,6.1,4.1,2.1,-1.5,1.1,2.2,6.7,10.2,8.1,11.2,8.3,4.6,1.6,-2,-4,5.2,5.6,3.2,8.7,-1.1,-3.5,-7.1,-4.2,-5,-3,0.2,9.4,4.1,-0.2,-7.6,-5.4,-4.1,0.5,4.9,1.2,-5.5,-8.1,-7.5,-6.5,1.3,2.4,0.7,-4.4,-7.2,-11.7,-9.3,-5.1,4.1,6,1,-2.5,-2.3,5.5,6.2,2.4,3,-2.7,-3.2,-4.2,0.2,7.9,4,8.4,4.1,9.1,5.4,0.1,3.5,4.6,14.3,11.7,17.5,10.7,11.7,4,1.2,-0.4,4.5];
const m2z23 = [0,3.3,4.1,4.8,2.8,-1.6,4.1,-0.9,3.3,2.6,4.8,6.8,13.4,11.6,10.3,4.4,6.2,6.7,3.5,4.7,1.7,-2.4,7.2,9.5,10.8,11.8,16.4,8.5,4.9,3.7,6.7,9.7,8.7,7.2,10.7,9.2,1,5.2,6.2,6.4,6.4,4.4,2.4,-1.1,1.4,2.6,7.1,10.6,8.4,11.6,8.5,4.9,1.9,-1.6,-3.6,5.6,6,3.6,9.2,-0.6,-3,-6.6,-3.6,-4.5,-2.5,0.6,9.7,4.4,0.3,-7,-4.8,-3.6,1,5.4,1.7,-4.8,-7.6,-7,-6,1.8,3,1.2,-3.8,-6.6,-11.1,-8.7,-4.6,4.7,6.5,1.5,-1.8,-1.5,6.2,7.2,3.2,3.6,-2.1,-2.6,-3.6,0.7,8.7,4.6,9.2,4.8,9.8,6.2,0.8,4.1,5.3,15.4,12.6,18.5,11.6,12.6,5,2.4,0.8,5.6];
const m2z24 = [0,3.5,4.3,5,3,-1.5,4.3,-0.8,3.5,2.8,5,7,13.5,11.8,10.5,5,6.5,7,3.8,5,2,-2,7.5,9.8,11,12,16.6,8.8,5.3,4,7,10,9,7.5,11,9.5,1.3,5.5,6.5,6.8,6.8,4.8,2.8,-0.8,1.8,3,7.5,11,8.8,12.1,8.8,5.3,2.3,-1.3,-3.3,6,6.4,4,9.8,-0.1,-2.5,-6.1,-3,-4,-2,1,10,4.8,0.8,-6.4,-4.3,-3.1,1.5,5.9,2.3,-4.1,-7.1,-6.5,-5.5,2.3,3.7,1.8,-3.3,-6,-10.5,-8.1,-4.1,5.3,7,2.1,-1.1,-0.8,6.9,8.3,4,4.3,-1.5,-2,-3,1.3,9.5,5.3,10,5.5,10.5,7,1.5,4.8,6,16.5,13.5,19.6,12.5,13.5,6,3.7,2,6.8];
const m2z25 = [0,3.8,4.5,5.3,3.3,-1.4,4.5,-0.5,3.8,3,5.3,7.3,13.7,12,10.8,5.9,7,7.5,4.1,5.5,2.5,-1.4,8,10.1,11.3,12.3,17,9.1,5.8,4.5,7.5,10.5,9.5,8,11.5,10,1.6,6,7,7.3,7.3,5.3,3.3,-0.3,2.3,3.6,8.1,11.6,9.3,12.7,9.1,5.8,2.8,-0.8,-2.8,6.6,7,4.6,10.6,0.6,-1.8,-5.4,-2.1,-3.3,-1.3,1.6,10.5,5.3,1.4,-5.5,-3.5,-2.4,2.3,6.6,3.1,-3.1,-6.3,-5.8,-4.8,3.1,4.6,2.6,-2.5,-5.1,-9.6,-7.2,-3.3,6.2,7.7,3,-0.1,0.4,7.9,9.9,5.2,5.2,-0.6,-1.1,-2.1,2.1,10.7,6.2,11.2,6.6,11.6,8.2,2.6,5.7,7.1,18.1,14.9,21.2,13.9,14.9,7.5,5.5,3.8,8.5];
const m2z26 = [0,4.1,4.7,5.6,3.6,-1.2,4.7,-0.3,4.1,3.2,5.6,7.6,13.8,12.2,11.1,6.7,7.4,7.9,4.5,5.9,2.9,-0.8,8.4,10.5,11.6,12.6,17.3,9.5,6.3,4.9,7.9,10.9,9.9,8.4,11.9,10.4,2,6.4,7.4,7.8,7.8,5.8,3.8,0.3,2.8,4.2,8.7,12.2,9.8,13.2,9.5,6.3,3.3,-0.3,-2.3,7.1,7.5,5.2,11.3,1.3,-1.1,-4.7,-1.3,-2.6,-0.6,2.2,10.9,5.8,2,-4.6,-2.7,-1.7,3,7.3,3.8,-2.1,-5.6,-5.1,-4.1,3.8,5.5,3.3,-1.7,-4.3,-8.8,-6.4,-2.6,7,8.4,3.7,0.9,1.4,8.8,11.4,6.3,6.1,0.2,-0.3,-1.3,2.8,11.8,7.1,12.3,7.5,12.5,9.3,3.5,6.6,8,19.6,16.1,22.7,15.1,16.1,8.9,7.2,5.5,10.1];
const m2z27 = [0,4.4,4.9,5.9,3.9,-1.1,4.9,-0.1,4.4,3.4,5.9,7.9,13.9,12.4,11.4,7.6,7.8,8.3,4.8,6.3,3.3,-0.3,8.8,10.8,11.9,12.9,17.6,9.8,6.8,5.3,8.3,11.3,10.3,8.8,12.3,10.8,2.3,6.8,7.8,8.3,8.3,6.3,4.3,0.8,3.3,4.7,9.2,12.7,10.3,13.8,9.8,6.8,3.8,0.3,-1.8,7.6,8,5.7,12.1,2,-0.4,-4,-0.4,-1.9,0.2,2.7,11.3,6.3,2.7,-3.7,-1.9,-1,3.7,8,4.6,-1.2,-4.9,-4.4,-3.4,4.5,6.4,4.1,-0.9,-3.4,-7.9,-5.6,-1.9,7.9,9.1,4.5,1.8,2.5,9.7,12.9,7.4,7,1.1,0.6,-0.4,3.6,12.9,8,13.4,8.5,13.5,10.4,4.5,7.5,9,21.1,17.4,24.2,16.4,17.4,10.3,8.9,7.2,11.7];
const m2z28 = [0,4.5,5,6,4,-1,5,0,4.5,3.5,6,8,14,12.5,11.5,8,8,8.5,5,6.5,3.5,0,9,11,12,13,17.7,10,7,5.5,8.5,11.5,10.5,9,12.5,11,2.5,7,8,8.5,8.5,6.5,4.5,1,3.5,5,9.5,13,10.5,14.1,10,7,4,0.5,-1.5,7.9,8.3,6,12.5,2.3,0,-3.7,0,-1.5,0.5,3,11.5,6.5,3,-3.3,-1.5,-0.7,4,8.3,5,-0.7,-4.5,-4,-3,4.9,6.8,4.5,-0.5,-3,-7.5,-5.2,-1.5,8.3,9.4,4.9,2.3,3,10.2,13.6,8,7.5,1.5,1,0,4,13.5,8.5,14,9,14,11,5,8,9.5,21.9,18,24.9,17,18,11,9.8,8,12.5];

// series in legend order (zones 1..28)
const method1Series = [m1z1,m1z2,m1z3,m1z4,m1z5,m1z7,m1z8,m1z9,m1z10,m1z11,m1z12,m1z13,m1z14,m1z15,m1z16,m1z17,m1z18,m1z19,m1z21,m1z22,m1z23,m1z24,m1z25,m1z26,m1z27,m1z28];
const method2Series = [m2z1,m2z2,m2z3,m2z4,m2z5,m2z7,m2z8,m2z9,m2z10,m2z11,m2z12,m2z13,m2z14,m2z15,m2z16,m2z17,m2z18,m2z19,m2z21,m2z22,m2z23,m2z24,m2z25,m2z26,m2z27,m2z28];

// ---- drawing ----
const FONT = '"Liberation Sans", Arial, Helvetica, sans-serif';
const axisColor = "#262626";
const svg = d3.select("#chart");
const defs = svg.append("defs");
const plotLeft = 118, plotRight = 1076;
const x = d3.scaleLinear().domain([2011.55, 2025.19]).range([plotLeft, plotRight]);

const panels = [
  { title: "Method 1", top: 46.5, bottom: 489, years: m1Years, series: method1Series, xLabelY: 571 },
  { title: "Method 2", top: 640.5, bottom: 1083.5, years: m2Years, series: method2Series, xLabelY: 1161 }
];

panels.forEach((p, pi) => {
  const y = d3.scaleLinear().domain([-25, 25]).range([p.bottom, p.top]);
  const g = svg.append("g");

  // grid
  const grid = g.append("g").attr("stroke", "#e1e1e1").attr("stroke-width", 1).attr("shape-rendering", "crispEdges");
  grid.selectAll("line.gx").data(xTickYears).join("line").attr("class", "gx")
    .attr("x1", d => x(d)).attr("x2", d => x(d)).attr("y1", p.top).attr("y2", p.bottom);
  grid.selectAll("line.gy").data(yTickValues).join("line").attr("class", "gy")
    .attr("x1", plotLeft).attr("x2", plotRight).attr("y1", d => y(d)).attr("y2", d => y(d));

  // clip for the series
  const clipId = "plotclip" + pi;
  defs.append("clipPath").attr("id", clipId).append("rect")
    .attr("x", plotLeft).attr("y", p.top).attr("width", plotRight - plotLeft).attr("height", p.bottom - p.top);

  const line = d3.line().x(d => x(d[0])).y(d => y(d[1]));
  g.append("g").attr("clip-path", `url(#${clipId})`)
    .selectAll("path").data(p.series).join("path")
    .attr("d", s => line(s.map((v, i) => [p.years[i], v]).filter(d => d[0] !== undefined && d[1] != null)))
    .attr("fill", "none")
    .attr("stroke", (s, i) => zoneColors[i])
    .attr("stroke-width", 2)
    .attr("stroke-linejoin", "round");

  // axes box with inward ticks
  const styleAxis = sel => sel.attr("color", axisColor).attr("font-family", FONT).attr("font-size", 32)
    .call(s => s.selectAll("text").attr("fill", "#000"))
    .call(s => s.selectAll("path.domain, line").attr("stroke-width", 1));
  g.append("g").attr("transform", `translate(0,${p.bottom})`)
    .call(d3.axisBottom(x).tickValues(xTickYears).tickFormat(d => String(d)).tickSizeInner(-10).tickSizeOuter(0).tickPadding(19))
    .call(styleAxis);
  g.append("g").attr("transform", `translate(0,${p.top})`)
    .call(d3.axisTop(x).tickValues(xTickYears).tickFormat(() => "").tickSizeInner(-10).tickSizeOuter(0))
    .call(styleAxis);
  g.append("g").attr("transform", `translate(${plotLeft},0)`)
    .call(d3.axisLeft(y).tickValues(yTickValues).tickFormat(d => String(d)).tickSizeInner(-10).tickSizeOuter(0).tickPadding(12))
    .call(styleAxis);
  g.append("g").attr("transform", `translate(${plotRight},0)`)
    .call(d3.axisRight(y).tickValues(yTickValues).tickFormat(() => "").tickSizeInner(-10).tickSizeOuter(0))
    .call(styleAxis);

  // title
  g.append("text").attr("x", (plotLeft + plotRight) / 2).attr("y", p.top - 10.5)
    .attr("text-anchor", "middle").attr("font-family", FONT).attr("font-size", 35).attr("font-weight", "bold")
    .attr("fill", "#000").text(p.title);

  // x label
  g.append("text").attr("x", (plotLeft + plotRight) / 2).attr("y", p.xLabelY)
    .attr("text-anchor", "middle").attr("font-family", FONT).attr("font-size", 35)
    .attr("fill", "#000").text("Year");

  // y label with subscript
  const yl = g.append("text")
    .attr("transform", `translate(33,${(p.top + p.bottom) / 2}) rotate(-90)`)
    .attr("text-anchor", "middle").attr("font-family", FONT).attr("font-size", 35).attr("fill", "#000");
  yl.append("tspan").text("d");
  yl.append("tspan").attr("font-size", 27).attr("dy", 7).text("U");
  yl.append("tspan").attr("dy", -7).text("\u00A0\u00A0[mm]");
});

// legend
const legend = svg.append("g").attr("font-family", FONT).attr("font-size", 29);
const rows = legend.selectAll("g").data(zoneIds).join("g")
  .attr("transform", (d, i) => `translate(0,${144 + i * 33.65})`);
rows.append("line").attr("x1", 1117).attr("x2", 1180).attr("y1", 0).attr("y2", 0)
  .attr("stroke", (d, i) => zoneColors[i]).attr("stroke-width", 1.8);
rows.append("text").attr("x", 1185).attr("y", 0).attr("dy", "0.35em").attr("fill", "#000")
  .text(d => "Zone " + d);
</script>
</body>
</html>
